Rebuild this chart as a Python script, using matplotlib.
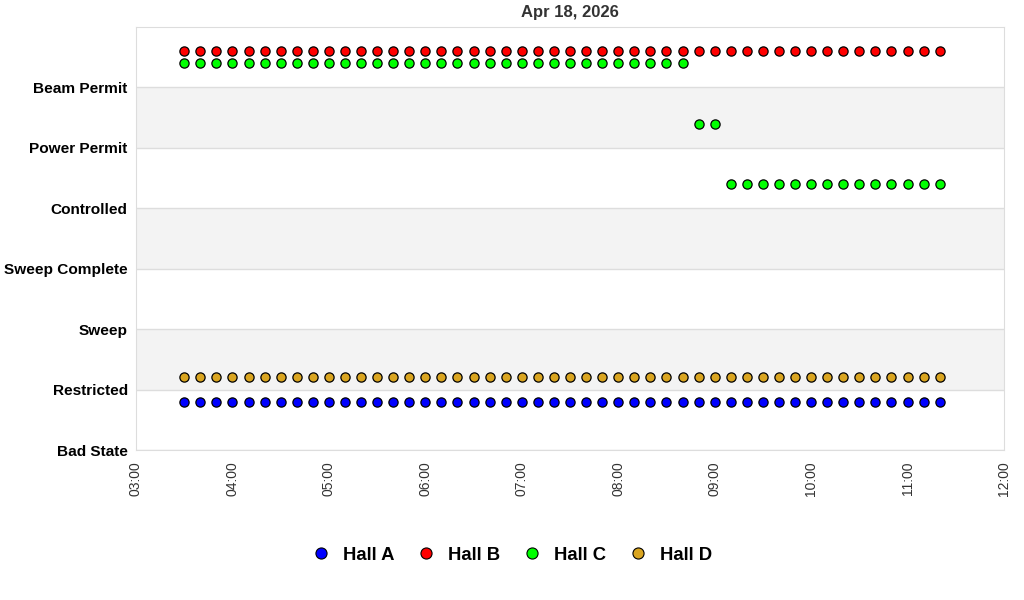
import matplotlib
matplotlib.use('Agg')
import matplotlib.pyplot as plt
import matplotlib.dates as mdates
from matplotlib.lines import Line2D
import pandas as pd

plt.rcParams['font.family'] = ['Liberation Sans', 'DejaVu Sans']

states = ['Bad State', 'Restricted', 'Sweep', 'Sweep Complete',
          'Controlled', 'Power Permit', 'Beam Permit']

times = ['03:30', '03:40', '03:50', '04:00', '04:10', '04:20', '04:30', '04:40',
         '04:50', '05:00', '05:10', '05:20', '05:30', '05:40', '05:50', '06:00',
         '06:10', '06:20', '06:30', '06:40', '06:50', '07:00', '07:10', '07:20',
         '07:30', '07:40', '07:50', '08:00', '08:10', '08:20', '08:30', '08:40',
         '08:50', '09:00', '09:10', '09:20', '09:30', '09:40', '09:50', '10:00',
         '10:10', '10:20', '10:30', '10:40', '10:50', '11:00', '11:10', '11:20']

hall_a = ['Restricted'] * 48
hall_b = ['Beam Permit'] * 48
hall_c = ['Beam Permit'] * 32 + ['Power Permit'] * 2 + ['Controlled'] * 14
hall_d = ['Restricted'] * 48

halls = ['Hall A', 'Hall B', 'Hall C', 'Hall D']
colors = ['#0000ff', '#ff0000', '#00ff00', '#daa520']
offsets = [-0.2, 0.6, 0.4, 0.2]   # small vertical shift so halls don't overlap

t = pd.to_datetime(['2026-04-18 ' + s for s in times])

fig = plt.figure(figsize=(10.24, 6), dpi=100)
ax = fig.add_axes([136/1024, 1-450/600, 868/1024, 423/600])

for i in range(len(states)):
    if i % 2 == 1:
        ax.axhspan(i, i+1, color='#f3f3f3', zorder=0, lw=0)
    ax.axhline(i, color='#dddddd', lw=1, zorder=1)

for name, data, c, off in zip(halls, [hall_a, hall_b, hall_c, hall_d], colors, offsets):
    y = [states.index(s) + off for s in data]
    ax.scatter(t, y, s=44, c=c, edgecolors='black', linewidths=0.9, zorder=3)

ax.set_ylim(0, 7)
ax.set_yticks(range(len(states)))
ax.set_yticklabels(states, fontsize=11.1, fontweight='bold', va='center_baseline')
ax.set_xlim(pd.Timestamp('2026-04-18 03:00'), pd.Timestamp('2026-04-18 12:00'))
ax.xaxis.set_major_locator(mdates.HourLocator())
ax.xaxis.set_major_formatter(mdates.DateFormatter('%H:%M'))
plt.setp(ax.get_xticklabels(), rotation=90, fontsize=10, color='#333333')
ax.tick_params(length=0, pad=8)
ax.tick_params(axis='y', pad=6)
for sp in ax.spines.values():
    sp.set_color('#dddddd')

ax.set_title('Apr 18, 2026', fontsize=12, fontweight='bold', color='#333333', pad=7)

handles = [Line2D([], [], marker='o', ls='', markersize=8, markerfacecolor=c,
                  markeredgecolor='black', markeredgewidth=0.8) for c in colors]
fig.legend(handles, halls, loc='center', bbox_to_anchor=(0.5, 1-555/600), ncol=4,
           frameon=False, prop={'size': 13.3, 'weight': 'bold'},
           handlelength=1.0, handletextpad=0.7, columnspacing=1.2)

fig.savefig('out.png')
